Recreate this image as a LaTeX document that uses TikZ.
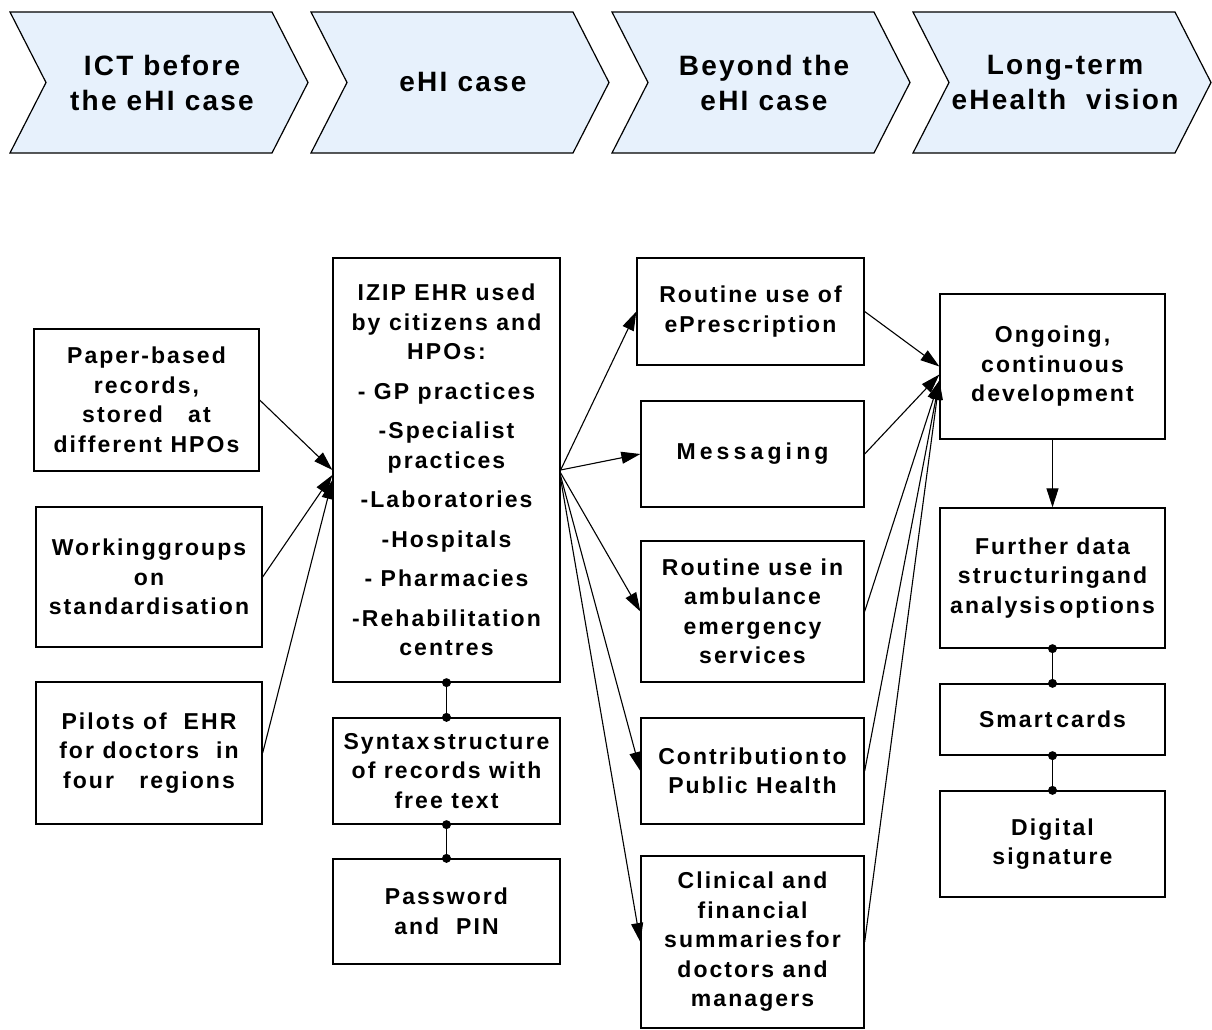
\documentclass[tikz,border=0pt]{standalone}
\usepackage{fontspec}
\setmainfont{Liberation Sans}
\newfontfamily\boxfont{Liberation Sans}[LetterSpace=9]
\newfontfamily\headfont{Liberation Sans}[LetterSpace=8]
\usetikzlibrary{arrows.meta}

\definecolor{chevfill}{RGB}{231,241,252}

\begin{document}
\begin{tikzpicture}[x=1pt,y=-1pt,
  chevron/.style={draw, line width=1.2pt, fill=chevfill, line join=miter},
  headtext/.style={align=center, inner sep=0pt,
    font=\headfont\bfseries\fontsize{28}{35}\selectfont},
  box/.style={draw, line width=1.3pt, minimum width=#1, inner sep=0pt,
    align=center, font=\boxfont\bfseries\fontsize{23}{29.5}\selectfont},
  box/.default=225pt,
  arr/.style={line width=1.1pt, -{Triangle[length=19pt,width=12pt]}},
  link/.style={line width=1.3pt},
  dot/.style={fill=black}
]
\useasboundingbox (0,0) rectangle (1212,1030);

% phase chevrons
\foreach \x/\t [count=\i] in {10/{ICT before\\the eHI case}, 311/{eHI case},
                              612/{Beyond the\\eHI case}, 913/{Long-term\\eHealth\ \ vision}} {
  \draw[chevron] (\x,12) -- ++(262,0) -- ++(36,70.5) -- ++(-36,70.5)
                 -- ++(-262,0) -- ++(36,-70.5) -- cycle;
  \node[headtext] (phase\i) at (\x+152,82.5) {\t};
}

% column 1: starting situation
\node[box, minimum height=142pt] (paper) at (146.5,400)
  {Paper-based\\records,\\stored\ \ \ at\\different HPOs};
\node[box=226pt, minimum height=140pt] (working) at (149,577)
  {Workinggroups\\on\\standardisation};
\node[box=226pt, minimum height=142pt] (pilots) at (149,753)
  {Pilots of\ \ EHR\\for doctors\ \ in\\four\ \ \ regions};

% column 2: the eHI case
\node[box=227pt, minimum height=424pt] (izip) at (446.5,470)
  {IZIP EHR used\\by citizens and\\HPOs:\\[10pt]
   - GP practices\\[10pt]-Specialist\\practices\\[10pt]-Laboratories\\[10pt]
   -Hospitals\\[10pt]- Pharmacies\\[10pt]-Rehabilitation\\centres};
\node[box=227pt, minimum height=106pt] (syntax) at (446.5,771)
  {Syntax\,structure\\of records with\\free text};
\node[box=227pt, minimum height=105pt] (password) at (446.5,911.5)
  {Password\\and\ \ PIN};

% column 3: beyond the case
\node[box=227pt, minimum height=107pt] (epres) at (750.5,311.5)
  {Routine use of\\ePrescription};
\node[box=223pt, minimum height=106pt] (msg) at (752.5,454)
  {\addfontfeatures{LetterSpace=18}Messaging};
\node[box=223pt, minimum height=141pt] (amb) at (752.5,611.5)
  {Routine use in\\ambulance\\emergency\\services};
\node[box=223pt, minimum height=106pt] (contrib) at (752.5,771)
  {Contribution\,to\\Public Health};
\node[box=223pt, minimum height=172pt] (clin) at (752.5,942)
  {Clinical and\\financial\\summaries\,for\\doctors and\\managers};

% column 4: long-term vision
\node[box, minimum height=145pt] (ongoing) at (1052.5,366.5)
  {Ongoing,\\continuous\\development};
\node[box, minimum height=140pt] (further) at (1052.5,578)
  {Further data\\structuringand\\analysis\,options};
\node[box, minimum height=71pt] (smart) at (1052.5,719.5) {Smart\,cards};
\node[box, minimum height=106pt] (digital) at (1052.5,844)
  {Digital\\signature};

% inputs to the eHI case
\draw[arr] (paper.east) -- (izip.west);
\draw[arr] (working.east) -- ([yshift=-5pt]izip.west);
\draw[arr] (pilots.east) -- ([yshift=-10pt]izip.west);

% outputs of the eHI case
\draw[arr] (izip.east) -- (epres.west);
\draw[arr] (izip.east) -- (msg.west);
\draw[arr] ([yshift=-3pt]izip.east) -- (amb.west);
\draw[arr] ([yshift=-6pt]izip.east) -- (contrib.west);
\draw[arr] ([yshift=-9pt]izip.east) -- (clin.west);

% towards continuous development
\draw[arr] (epres.east) -- (ongoing.west);
\draw[arr] (msg.east) -- ([yshift=-8pt]ongoing.west);
\draw[arr] (amb.east) -- ([yshift=-14pt]ongoing.west);
\draw[arr] (contrib.east) -- ([yshift=-14pt]ongoing.west);
\draw[arr] (clin.east) -- ([yshift=-14pt]ongoing.west);
\draw[arr] (ongoing.south) -- (further.north);

% attached components
\foreach \a/\b in {izip/syntax, syntax/password, further/smart, smart/digital} {
  \draw[link] (\a.south) -- (\b.north);
  \fill[dot] (\a.south) circle (4.5pt);
  \fill[dot] (\b.north) circle (4.5pt);
}
\end{tikzpicture}
\end{document}
